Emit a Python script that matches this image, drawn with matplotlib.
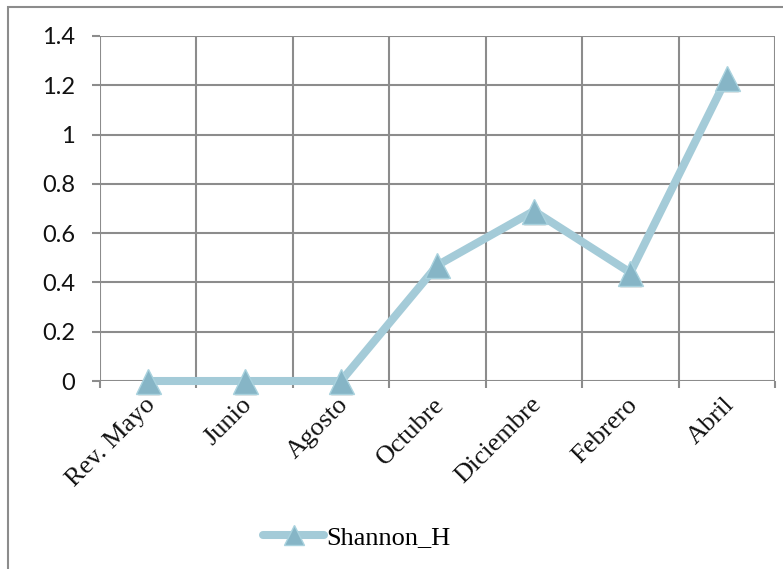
import matplotlib
matplotlib.use("Agg")
import matplotlib.pyplot as plt
import matplotlib.transforms as mtransforms
from matplotlib.patches import Rectangle
from matplotlib.lines import Line2D

# Data
months = ["Rev. Mayo", "Junio", "Agosto", "Octubre", "Diciembre", "Febrero", "Abril"]
shannon_h = [0.0, 0.0, 0.0, 0.47, 0.69, 0.44, 1.23]
y_ticks = [0, 0.2, 0.4, 0.6, 0.8, 1.0, 1.2, 1.4]
y_tick_labels = ["0", "0.2", "0.4", "0.6", "0.8", "1", "1.2", "1.4"]
series_name = "Shannon_H"

W, H = 783, 569
fig = plt.figure(figsize=(W / 100, H / 100), dpi=100)

grid_c = "#8c8c8c"
line_c = "#a4cbd8"
marker_c = "#86b5c6"
marker_edge = "#a9d2de"

# Outer chart border
fig.add_artist(Rectangle((8 / W, -0.05), 1.2, 1 - 7 / H + 0.05,
                         transform=fig.transFigure, fill=False,
                         edgecolor=grid_c, linewidth=1.5))

ax = fig.add_axes([100 / W, 1 - 381 / H, 675 / W, 345 / H])
x = list(range(len(months)))

# Soft shadow below each marker
shadow = mtransforms.offset_copy(ax.transData, fig=fig, x=1, y=-4, units="dots")
ax.plot(x, shannon_h, linestyle="none", marker="^", markersize=16,
        color="#6f6f6f", markeredgewidth=0, alpha=0.18, transform=shadow,
        zorder=3, clip_on=False)

ax.plot(x, shannon_h, color=line_c, linewidth=5.8, solid_capstyle="round",
        zorder=4, marker="^", markersize=18, markerfacecolor=marker_c,
        markeredgecolor=marker_edge, markeredgewidth=1.0, clip_on=False)

ax.set_xlim(-0.5, len(months) - 0.5)
ax.set_ylim(0, 1.4)

# Grid lines
for b in [i - 0.5 for i in range(len(months) + 1)]:
    ax.axvline(b, color=grid_c, linewidth=1.5, zorder=1)
for t in y_ticks:
    ax.axhline(t, color=grid_c, linewidth=1.5, zorder=1)

for s in ax.spines.values():
    s.set_visible(False)

ax.set_yticks(y_ticks)
ax.set_yticklabels(y_tick_labels, fontfamily="Lato", fontsize=17, color="#111111")
ax.tick_params(axis="y", length=6, width=1.5, color=grid_c, pad=12)

ax.set_xticks(x)
ax.set_xticks([i - 0.5 for i in range(len(months) + 1)], minor=True)
ax.tick_params(axis="x", which="major", length=0, pad=9)
ax.tick_params(axis="x", which="minor", length=5, width=1.5, color=grid_c)
ax.set_xticklabels(months, rotation=45, ha="right", rotation_mode="anchor",
                   fontfamily="Liberation Serif", fontsize=19, color="#111111")
offset = mtransforms.ScaledTranslation(-4 / 100, 0, fig.dpi_scale_trans)
for lbl in ax.get_xticklabels():
    lbl.set_transform(lbl.get_transform() + offset)

# Legend
handle = Line2D([], [], color=line_c, linewidth=5.8, solid_capstyle="round",
                marker="^", markersize=15, markerfacecolor=marker_c,
                markeredgecolor=marker_edge)
fig.legend([handle], [series_name], loc="center",
           bbox_to_anchor=(357 / W, 1 - 537 / H), frameon=False,
           prop={"family": "Liberation Serif", "size": 19},
           handlelength=2.3, handletextpad=0.1)

fig.savefig("out.png", dpi=100)
